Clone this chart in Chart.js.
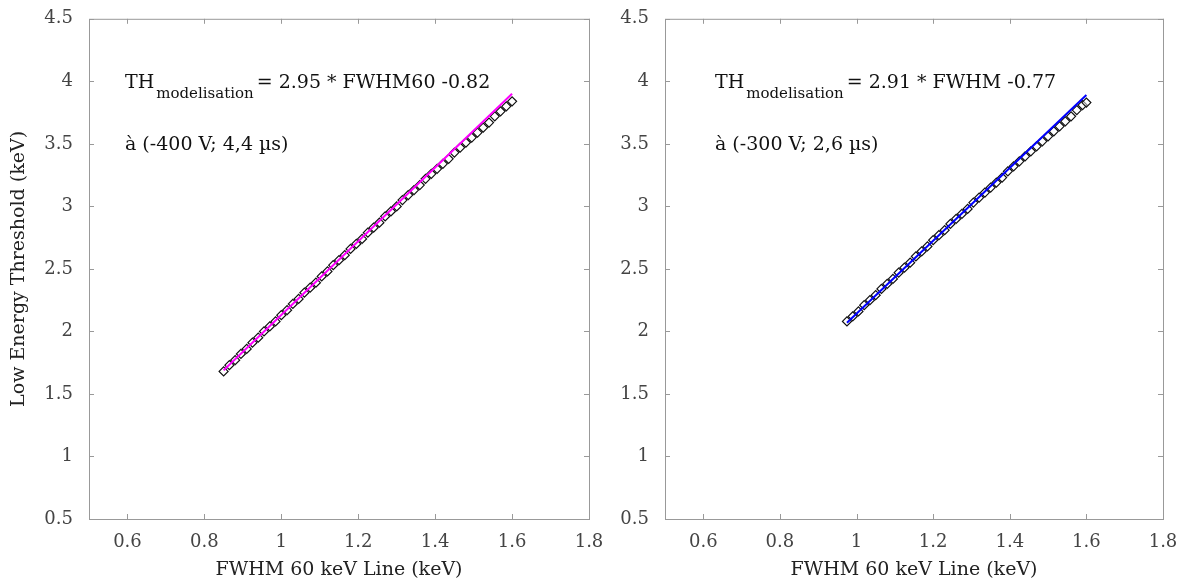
<!DOCTYPE html>
<html>
<head>
<meta charset="utf-8">
<script src="https://cdn.jsdelivr.net/npm/chart.js@4/dist/chart.umd.min.js"></script>
<style>
  body { margin: 0; background: #fff; }
  .box { position: absolute; top: 0; height: 585px; }
</style>
</head>
<body>
<div class="box" style="left:0;width:615px"><canvas id="left-chart"></canvas></div>
<div class="box" style="left:595px;width:594px"><canvas id="right-chart"></canvas></div>
<script>
const xTicks = [0.6, 0.8, 1, 1.2, 1.4, 1.6, 1.8];
const yTicks = [0.5, 1, 1.5, 2, 2.5, 3, 3.5, 4, 4.5];

// -400 V ; 4,4 us
const fwhmA = [0.85, 0.865, 0.88, 0.895, 0.91, 0.925, 0.94, 0.955, 0.97, 0.985,
  1.00, 1.015, 1.03, 1.045, 1.06, 1.075, 1.09, 1.105, 1.12, 1.135,
  1.15, 1.165, 1.18, 1.195, 1.21, 1.225, 1.24, 1.255, 1.27, 1.285,
  1.30, 1.315, 1.33, 1.345, 1.36, 1.375, 1.39, 1.405, 1.42, 1.435,
  1.45, 1.465, 1.48, 1.495, 1.51, 1.525, 1.54, 1.555, 1.57, 1.585, 1.60];
const thA = [1.68, 1.73, 1.77, 1.82, 1.86, 1.91, 1.95, 2.00, 2.04, 2.08,
  2.13, 2.17, 2.22, 2.26, 2.31, 2.35, 2.39, 2.44, 2.48, 2.53,
  2.57, 2.61, 2.66, 2.70, 2.74, 2.79, 2.83, 2.87, 2.92, 2.96,
  3.00, 3.05, 3.09, 3.13, 3.17, 3.22, 3.26, 3.30, 3.34, 3.38,
  3.43, 3.47, 3.51, 3.55, 3.59, 3.63, 3.67, 3.72, 3.76, 3.80, 3.84];
const fitAx = [0.85, 1.60];
const fitAy = [1.69, 3.90];

// -300 V ; 2,6 us
const fwhmB = [0.975, 0.99, 1.005, 1.02, 1.035, 1.05, 1.065, 1.08, 1.095, 1.11,
  1.125, 1.14, 1.155, 1.17, 1.185, 1.20, 1.215, 1.23, 1.245, 1.26,
  1.275, 1.29, 1.305, 1.32, 1.335, 1.35, 1.365, 1.38, 1.395, 1.41,
  1.425, 1.44, 1.455, 1.47, 1.485, 1.50, 1.515, 1.53, 1.545, 1.56,
  1.575, 1.59, 1.60];
const thB = [2.08, 2.12, 2.16, 2.21, 2.25, 2.29, 2.34, 2.38, 2.42, 2.47,
  2.51, 2.55, 2.60, 2.64, 2.68, 2.73, 2.77, 2.81, 2.86, 2.90,
  2.94, 2.98, 3.03, 3.07, 3.11, 3.15, 3.19, 3.23, 3.28, 3.32,
  3.36, 3.40, 3.44, 3.48, 3.52, 3.56, 3.60, 3.64, 3.68, 3.72,
  3.77, 3.81, 3.83];
const fitBx = [0.975, 1.60];
const fitBy = [2.07, 3.89];

const tickFont = { family: "DejaVu Serif", size: 18 };
const titleFont = { family: "DejaVu Serif", size: 19 };

const pairs = (xs, ys) => xs.map((x, i) => ({ x: x, y: ys[i] }));

// box round the axes + small inward ticks, matlab style
const framePlugin = {
  id: 'frame',
  afterDraw(chart) {
    const { ctx, chartArea: a, scales } = chart;
    ctx.save();
    ctx.strokeStyle = '#999';
    ctx.lineWidth = 1;
    ctx.strokeRect(a.left + 0.5, a.top + 0.5, a.right - a.left, a.bottom - a.top);
    ctx.beginPath();
    xTicks.forEach(v => {
      const px = Math.round(scales.x.getPixelForValue(v)) + 0.5;
      ctx.moveTo(px, a.bottom); ctx.lineTo(px, a.bottom - 5);
      ctx.moveTo(px, a.top); ctx.lineTo(px, a.top + 5);
    });
    yTicks.forEach(v => {
      const py = Math.round(scales.y.getPixelForValue(v)) + 0.5;
      ctx.moveTo(a.left, py); ctx.lineTo(a.left + 5, py);
      ctx.moveTo(a.right, py); ctx.lineTo(a.right - 5, py);
    });
    ctx.stroke();

    const n = chart.options.plugins.note;
    ctx.fillStyle = '#111';
    ctx.textBaseline = 'alphabetic';
    let x = a.left + n.dx;
    const y1 = 88;
    ctx.font = '19px "DejaVu Serif"';
    ctx.fillText('TH', x, y1);
    x += ctx.measureText('TH').width + 2;
    ctx.font = '15px "DejaVu Serif"';
    ctx.fillText('modelisation', x, y1 + 10);
    x += ctx.measureText('modelisation').width + 3;
    ctx.font = '19px "DejaVu Serif"';
    ctx.fillText(n.eq, x, y1);
    ctx.fillText(n.cond, a.left + n.dx, 150);
    ctx.restore();
  }
};

function makeChart(id, xs, ys, fx, fy, lineColor, showTitle, yWidth, padRight, note) {
  return new Chart(document.getElementById(id), {
    type: 'scatter',
    data: {
      datasets: [{
        type: 'line',
        data: pairs(fx, fy),
        borderColor: lineColor,
        borderWidth: 2,
        pointRadius: 0,
        fill: false,
        order: 0
      }, {
        data: pairs(xs, ys),
        pointStyle: 'rectRot',
        pointRadius: 4.5,
        borderColor: '#111',
        borderWidth: 1.2,
        backgroundColor: 'rgba(255,255,255,0.5)',
        order: 1
      }]
    },
    options: {
      responsive: true,
      maintainAspectRatio: false,
      animation: false,
      layout: { padding: { top: 18, right: padRight, bottom: 0, left: 0 } },
      plugins: {
        legend: { display: false },
        tooltip: { enabled: false },
        note: note
      },
      scales: {
        x: {
          type: 'linear',
          min: 0.5, max: 1.8,
          grid: { display: false },
          border: { display: false },
          afterBuildTicks: s => { s.ticks = xTicks.map(v => ({ value: v })); },
          afterFit: s => { s.height = 66; },
          ticks: { font: tickFont, color: '#444', padding: 5, maxRotation: 0,
            callback: v => String(v) },
          title: { display: true, text: 'FWHM 60 keV Line (keV)', font: titleFont,
            color: '#222', padding: { top: 0, bottom: 4 } }
        },
        y: {
          type: 'linear',
          min: 0.5, max: 4.5,
          grid: { display: false },
          border: { display: false },
          afterBuildTicks: s => { s.ticks = yTicks.map(v => ({ value: v })); },
          afterFit: s => { s.width = yWidth; },
          ticks: { font: tickFont, color: '#444', padding: 8,
            callback: v => String(v) },
          title: { display: showTitle, text: 'Low Energy Threshold (keV)', font: titleFont,
            color: '#222', padding: { top: 8, bottom: 0 } }
        }
      }
    },
    plugins: [framePlugin]
  });
}

makeChart('left-chart', fwhmA, thA, fitAx, fitAy, '#ff00ff', true, 89, 26,
  { dx: 36, eq: '= 2.95 * FWHM60 -0.82', cond: 'à (-400 V; 4,4 µs)' });
makeChart('right-chart', fwhmB, thB, fitBx, fitBy, '#0000ff', false, 70, 26,
  { dx: 50, eq: '= 2.91 * FWHM -0.77', cond: 'à (-300 V; 2,6 µs)' });
</script>
</body>
</html>
